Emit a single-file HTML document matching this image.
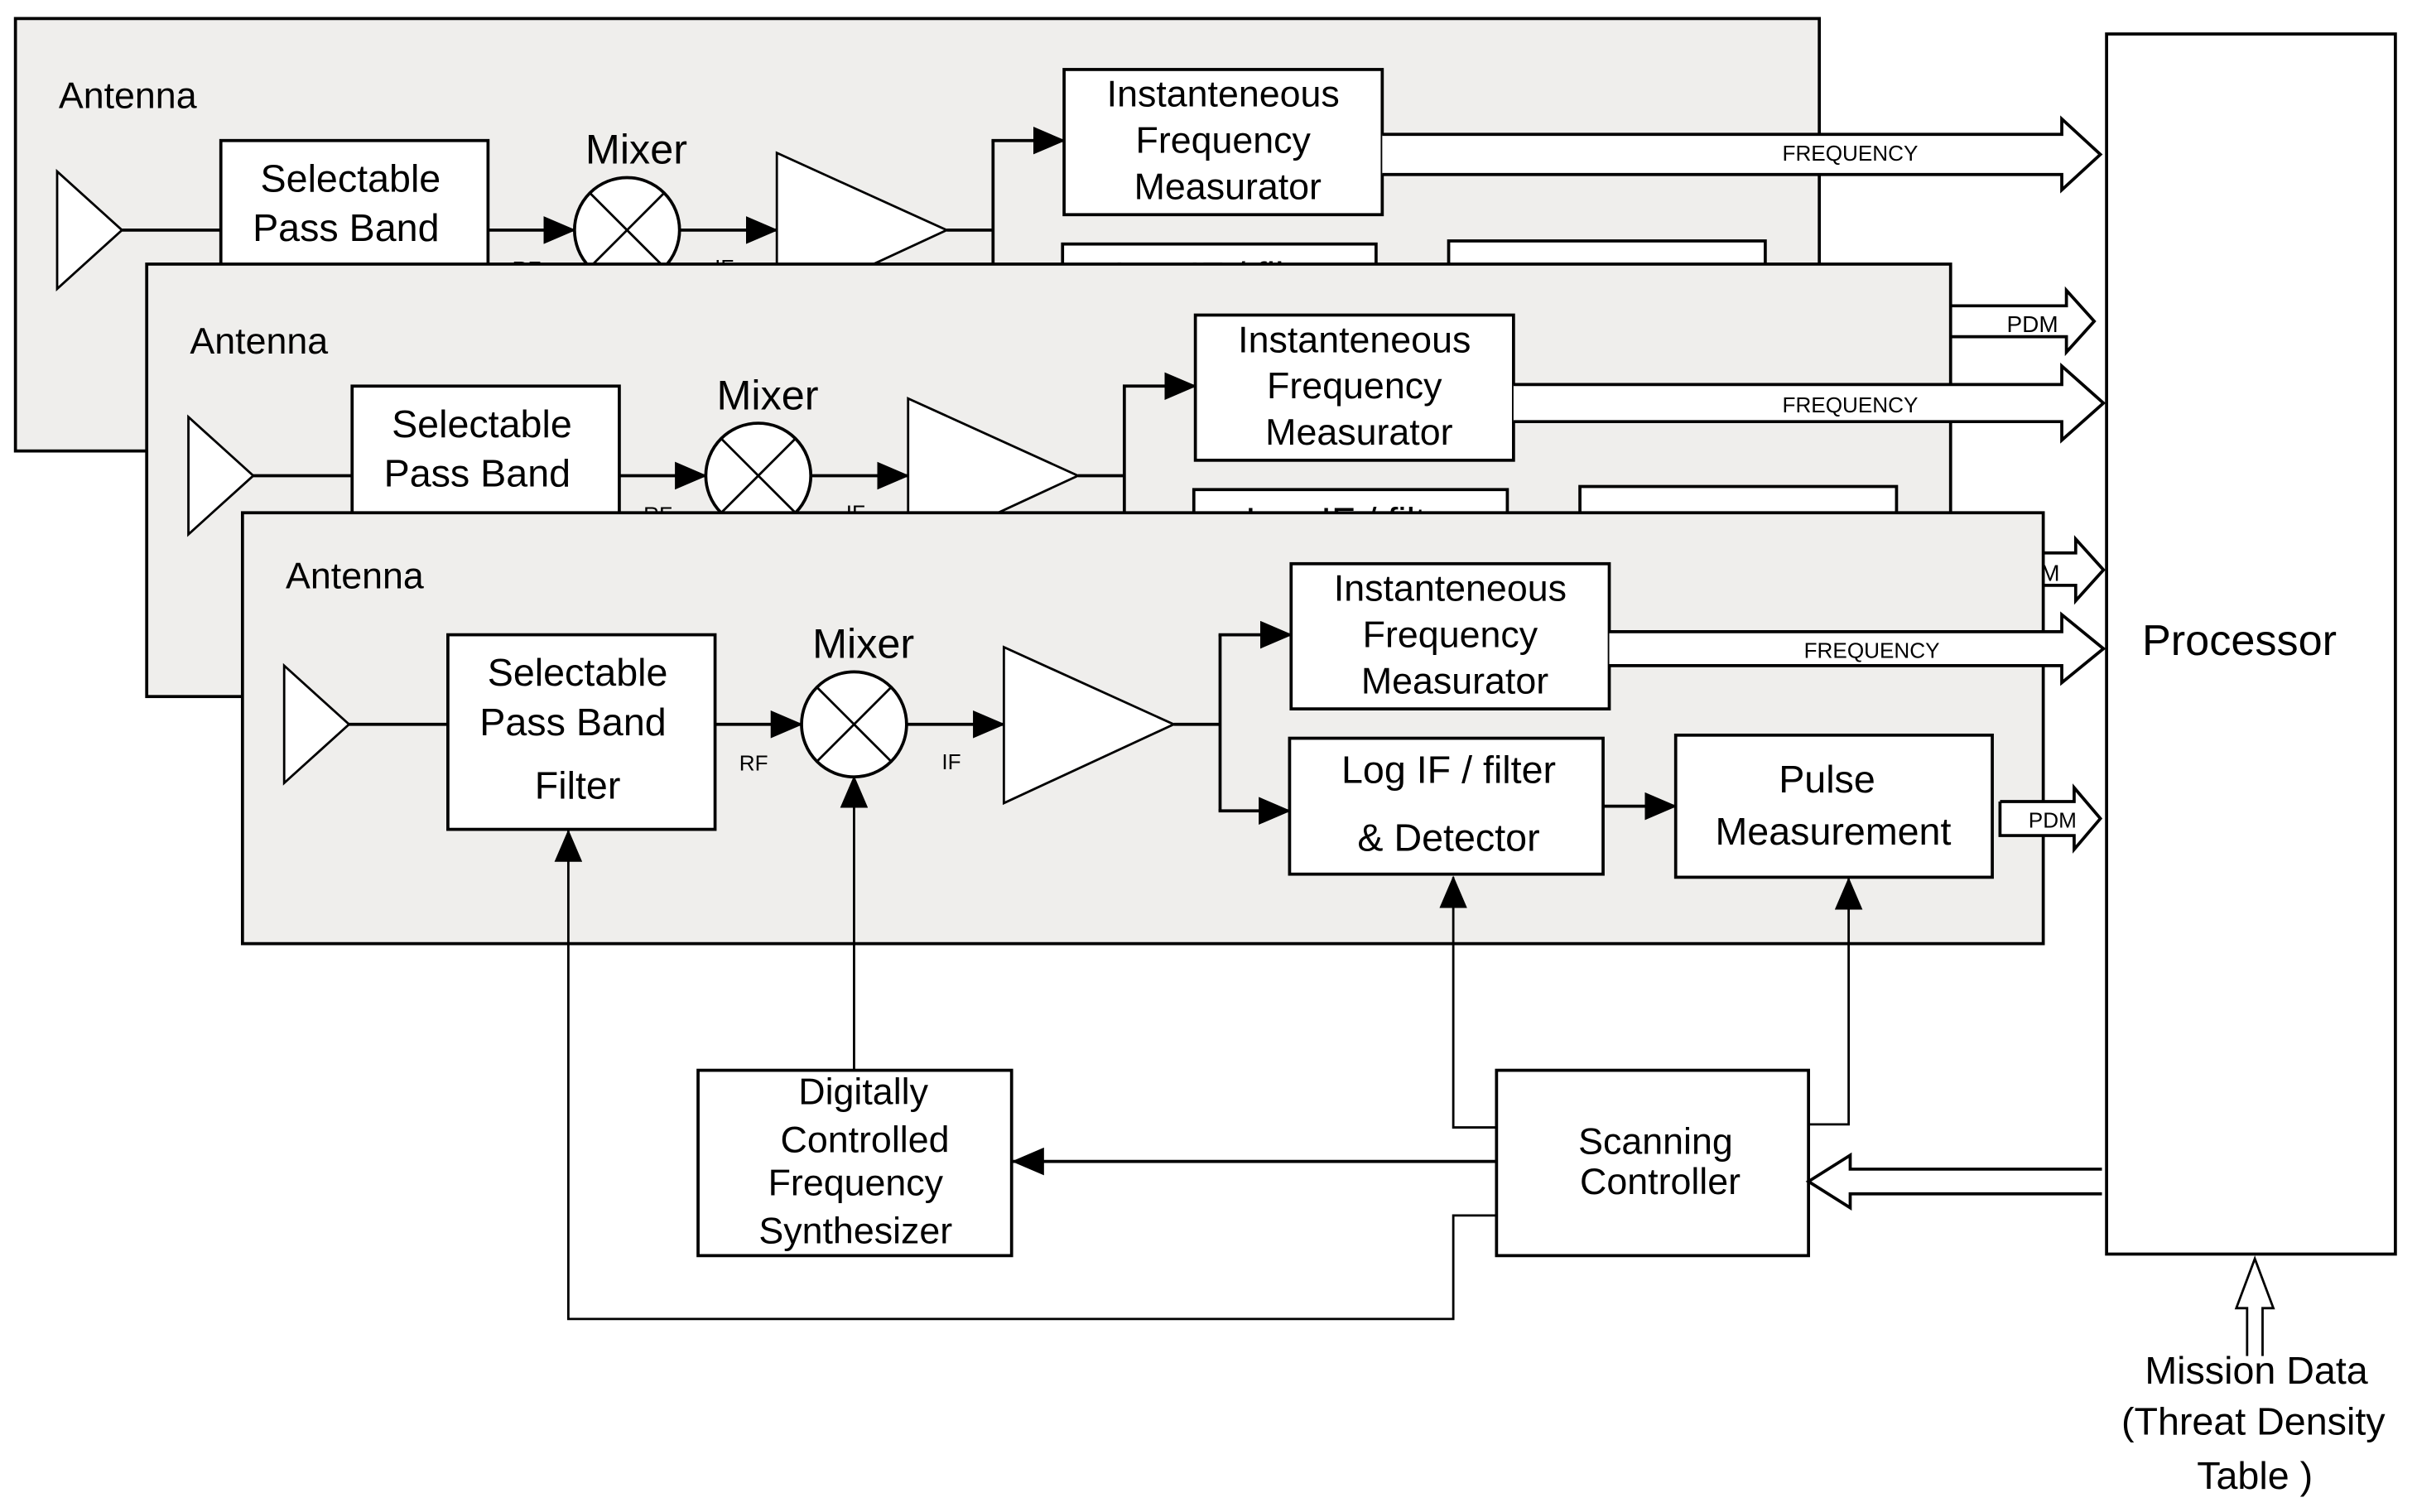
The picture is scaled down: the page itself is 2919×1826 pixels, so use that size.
<!DOCTYPE html>
<html><head><meta charset="utf-8"><style>
html,body{margin:0;padding:0;background:#fff;}
svg{display:block;}
text{font-family:"Liberation Sans",sans-serif;fill:#000;}
</style></head><body>
<svg width="2919" height="1826" viewBox="0 0 1565 979" preserveAspectRatio="none" xmlns="http://www.w3.org/2000/svg">
<defs>
<marker id="a" markerUnits="userSpaceOnUse" markerWidth="22" markerHeight="18" refX="20" refY="9" orient="auto"><path d="M0,0 L21,9 L0,18 z" fill="#000"/></marker>
</defs>

<!-- PANEL 1 -->
<g transform="translate(-147,-320)">
<rect x="157" y="332" width="1168" height="280" fill="#efeeec" stroke="#000" stroke-width="2"/>
<text x="185" y="390" font-size="24">Antenna</text>
<polygon points="184,431 226,469 184,507" fill="#fff" stroke="#000" stroke-width="1.5"/>
<line x1="226" y1="469" x2="290" y2="469" stroke="#000" stroke-width="2"/>
<rect x="290" y="411" width="173" height="126" fill="#fff" stroke="#000" stroke-width="2"/>
<text x="374" y="444" font-size="25" text-anchor="middle">Selectable</text>
<text x="371" y="476" font-size="25" text-anchor="middle">Pass Band</text>
<text x="374" y="517" font-size="25" text-anchor="middle">Filter</text>
<line x1="463" y1="469" x2="519" y2="469" stroke="#000" stroke-width="2" marker-end="url(#a)"/>
<text x="488" y="499" font-size="14" text-anchor="middle">RF</text>
<ellipse cx="553" cy="469" rx="34" ry="34" fill="#fff" stroke="#000" stroke-width="2"/>
<line x1="529" y1="445" x2="577" y2="493" stroke="#000" stroke-width="1.5"/>
<line x1="577" y1="445" x2="529" y2="493" stroke="#000" stroke-width="1.5"/>
<text x="559" y="426" font-size="27" text-anchor="middle">Mixer</text>
<line x1="587" y1="469" x2="650" y2="469" stroke="#000" stroke-width="2" marker-end="url(#a)"/>
<text x="616" y="498" font-size="14" text-anchor="middle">IF</text>
<polygon points="650,419 760,469 650,520" fill="#fff" stroke="#000" stroke-width="1.5"/>
<polyline points="760,469 790,469" fill="none" stroke="#000" stroke-width="2"/>
<polyline points="790,411 790,525" fill="none" stroke="#000" stroke-width="2"/>
<line x1="789" y1="411" x2="836" y2="411" stroke="#000" stroke-width="2" marker-end="url(#a)"/>
<line x1="789" y1="525" x2="835" y2="525" stroke="#000" stroke-width="2" marker-end="url(#a)"/>
<rect x="836" y="365" width="206" height="94" fill="#fff" stroke="#000" stroke-width="2"/>
<text x="939" y="389" font-size="24" text-anchor="middle">Instanteneous</text>
<text x="939" y="419" font-size="24" text-anchor="middle">Frequency</text>
<text x="942" y="449" font-size="24" text-anchor="middle">Measurator</text>
<rect x="835" y="478" width="203" height="88" fill="#fff" stroke="#000" stroke-width="2"/>
<text x="938" y="507" font-size="25" text-anchor="middle">Log IF  / filter</text>
<text x="938" y="551" font-size="25" text-anchor="middle">&amp; Detector</text>
<line x1="1038" y1="522" x2="1085" y2="522" stroke="#000" stroke-width="2" marker-end="url(#a)"/>
<rect x="1085" y="476" width="205" height="92" fill="#fff" stroke="#000" stroke-width="2"/>
<text x="1183" y="513" font-size="25" text-anchor="middle">Pulse</text>
<text x="1187" y="547" font-size="25" text-anchor="middle">Measurement</text>
</g>
<polyline points="895,87 1335,87 1335,77 1360,100 1335,123 1335,113 895,113" fill="#fff" stroke="#000" stroke-width="2"/>
<text x="1198" y="104" font-size="14" text-anchor="middle">FREQUENCY</text>
<polyline points="1143,198 1338,198 1338,188 1356,208 1338,228 1338,218 1143,218" fill="#fff" stroke="#000" stroke-width="2"/>
<text x="1316" y="215" font-size="15" text-anchor="middle">PDM</text>

<!-- PANEL 2 -->
<g transform="translate(-62,-161)">
<rect x="157" y="332" width="1168" height="280" fill="#efeeec" stroke="#000" stroke-width="2"/>
<text x="185" y="390" font-size="24">Antenna</text>
<polygon points="184,431 226,469 184,507" fill="#fff" stroke="#000" stroke-width="1.5"/>
<line x1="226" y1="469" x2="290" y2="469" stroke="#000" stroke-width="2"/>
<rect x="290" y="411" width="173" height="126" fill="#fff" stroke="#000" stroke-width="2"/>
<text x="374" y="444" font-size="25" text-anchor="middle">Selectable</text>
<text x="371" y="476" font-size="25" text-anchor="middle">Pass Band</text>
<text x="374" y="517" font-size="25" text-anchor="middle">Filter</text>
<line x1="463" y1="469" x2="519" y2="469" stroke="#000" stroke-width="2" marker-end="url(#a)"/>
<text x="488" y="499" font-size="14" text-anchor="middle">RF</text>
<ellipse cx="553" cy="469" rx="34" ry="34" fill="#fff" stroke="#000" stroke-width="2"/>
<line x1="529" y1="445" x2="577" y2="493" stroke="#000" stroke-width="1.5"/>
<line x1="577" y1="445" x2="529" y2="493" stroke="#000" stroke-width="1.5"/>
<text x="559" y="426" font-size="27" text-anchor="middle">Mixer</text>
<line x1="587" y1="469" x2="650" y2="469" stroke="#000" stroke-width="2" marker-end="url(#a)"/>
<text x="616" y="498" font-size="14" text-anchor="middle">IF</text>
<polygon points="650,419 760,469 650,520" fill="#fff" stroke="#000" stroke-width="1.5"/>
<polyline points="760,469 790,469" fill="none" stroke="#000" stroke-width="2"/>
<polyline points="790,411 790,525" fill="none" stroke="#000" stroke-width="2"/>
<line x1="789" y1="411" x2="836" y2="411" stroke="#000" stroke-width="2" marker-end="url(#a)"/>
<line x1="789" y1="525" x2="835" y2="525" stroke="#000" stroke-width="2" marker-end="url(#a)"/>
<rect x="836" y="365" width="206" height="94" fill="#fff" stroke="#000" stroke-width="2"/>
<text x="939" y="389" font-size="24" text-anchor="middle">Instanteneous</text>
<text x="939" y="419" font-size="24" text-anchor="middle">Frequency</text>
<text x="942" y="449" font-size="24" text-anchor="middle">Measurator</text>
<rect x="835" y="478" width="203" height="88" fill="#fff" stroke="#000" stroke-width="2"/>
<text x="938" y="507" font-size="25" text-anchor="middle">Log IF  / filter</text>
<text x="938" y="551" font-size="25" text-anchor="middle">&amp; Detector</text>
<line x1="1038" y1="522" x2="1085" y2="522" stroke="#000" stroke-width="2" marker-end="url(#a)"/>
<rect x="1085" y="476" width="205" height="92" fill="#fff" stroke="#000" stroke-width="2"/>
<text x="1183" y="513" font-size="25" text-anchor="middle">Pulse</text>
<text x="1187" y="547" font-size="25" text-anchor="middle">Measurement</text>
</g>
<polyline points="980,249 1335,249 1335,237 1362,261 1335,285 1335,273 980,273" fill="#fff" stroke="#000" stroke-width="2"/>
<text x="1198" y="267" font-size="14" text-anchor="middle">FREQUENCY</text>
<polyline points="1228,358 1344,358 1344,349 1362,369 1344,389 1344,379 1228,379" fill="#fff" stroke="#000" stroke-width="2"/>
<text x="1317" y="376" font-size="15" text-anchor="middle">PDM</text>

<!-- PANEL 3 -->
<g>
<rect x="157" y="332" width="1166" height="279" fill="#efeeec" stroke="#000" stroke-width="2"/>
<text x="185" y="381" font-size="24">Antenna</text>
<polygon points="184,431 226,469 184,507" fill="#fff" stroke="#000" stroke-width="1.5"/>
<line x1="226" y1="469" x2="290" y2="469" stroke="#000" stroke-width="2"/>
<rect x="290" y="411" width="173" height="126" fill="#fff" stroke="#000" stroke-width="2"/>
<text x="374" y="444" font-size="25" text-anchor="middle">Selectable</text>
<text x="371" y="476" font-size="25" text-anchor="middle">Pass Band</text>
<text x="374" y="517" font-size="25" text-anchor="middle">Filter</text>
<line x1="463" y1="469" x2="519" y2="469" stroke="#000" stroke-width="2" marker-end="url(#a)"/>
<text x="488" y="499" font-size="14" text-anchor="middle">RF</text>
<ellipse cx="553" cy="469" rx="34" ry="34" fill="#fff" stroke="#000" stroke-width="2"/>
<line x1="529" y1="445" x2="577" y2="493" stroke="#000" stroke-width="1.5"/>
<line x1="577" y1="445" x2="529" y2="493" stroke="#000" stroke-width="1.5"/>
<text x="559" y="426" font-size="27" text-anchor="middle">Mixer</text>
<line x1="587" y1="469" x2="650" y2="469" stroke="#000" stroke-width="2" marker-end="url(#a)"/>
<text x="616" y="498" font-size="14" text-anchor="middle">IF</text>
<polygon points="650,419 760,469 650,520" fill="#fff" stroke="#000" stroke-width="1.5"/>
<polyline points="760,469 790,469" fill="none" stroke="#000" stroke-width="2"/>
<polyline points="790,411 790,525" fill="none" stroke="#000" stroke-width="2"/>
<line x1="789" y1="411" x2="836" y2="411" stroke="#000" stroke-width="2" marker-end="url(#a)"/>
<line x1="789" y1="525" x2="835" y2="525" stroke="#000" stroke-width="2" marker-end="url(#a)"/>
<rect x="836" y="365" width="206" height="94" fill="#fff" stroke="#000" stroke-width="2"/>
<text x="939" y="389" font-size="24" text-anchor="middle">Instanteneous</text>
<text x="939" y="419" font-size="24" text-anchor="middle">Frequency</text>
<text x="942" y="449" font-size="24" text-anchor="middle">Measurator</text>
<rect x="835" y="478" width="203" height="88" fill="#fff" stroke="#000" stroke-width="2"/>
<text x="938" y="507" font-size="25" text-anchor="middle">Log IF  / filter</text>
<text x="938" y="551" font-size="25" text-anchor="middle">&amp; Detector</text>
<line x1="1038" y1="522" x2="1085" y2="522" stroke="#000" stroke-width="2" marker-end="url(#a)"/>
<rect x="1085" y="476" width="205" height="92" fill="#fff" stroke="#000" stroke-width="2"/>
<text x="1183" y="513" font-size="25" text-anchor="middle">Pulse</text>
<text x="1187" y="547" font-size="25" text-anchor="middle">Measurement</text>
</g>
<polyline points="1042,409 1335,409 1335,398 1362,420 1335,442 1335,431 1042,431" fill="#fff" stroke="#000" stroke-width="2"/>
<text x="1212" y="426" font-size="14" text-anchor="middle">FREQUENCY</text>
<polyline points="1295,519 1343,519 1343,510 1360,530 1343,550 1343,541 1295,541 1295,519" fill="#fff" stroke="#000" stroke-width="2"/>
<text x="1329" y="536" font-size="14" text-anchor="middle">PDM</text>

<!-- Processor -->
<rect x="1364" y="22" width="187" height="790" fill="#fff" stroke="#000" stroke-width="2"/>
<text x="1450" y="424" font-size="28" text-anchor="middle">Processor</text>

<!-- Bottom blocks -->
<rect x="452" y="693" width="203" height="120" fill="#fff" stroke="#000" stroke-width="2"/>
<text x="559" y="715" font-size="24" text-anchor="middle">Digitally</text>
<text x="560" y="746" font-size="24" text-anchor="middle">Controlled</text>
<text x="554" y="774" font-size="24" text-anchor="middle">Frequency</text>
<text x="554" y="805" font-size="24" text-anchor="middle">Synthesizer</text>
<rect x="969" y="693" width="202" height="120" fill="#fff" stroke="#000" stroke-width="2"/>
<text x="1072" y="747" font-size="24" text-anchor="middle">Scanning</text>
<text x="1075" y="773" font-size="24" text-anchor="middle">Controller</text>

<line x1="553" y1="693" x2="553" y2="503" stroke="#000" stroke-width="1.5" marker-end="url(#a)"/>
<line x1="969" y1="752" x2="656" y2="752" stroke="#000" stroke-width="2" marker-end="url(#a)"/>
<polyline points="969,730 941,730 941,568" fill="none" stroke="#000" stroke-width="1.5" marker-end="url(#a)"/>
<polyline points="1171,728 1197,728 1197,569" fill="none" stroke="#000" stroke-width="1.5" marker-end="url(#a)"/>
<polyline points="969,787 941,787 941,854 368,854 368,538" fill="none" stroke="#000" stroke-width="1.5" marker-end="url(#a)"/>

<polyline points="1361,757 1198,757 1198,748 1171,765 1198,782 1198,773 1361,773" fill="#fff" stroke="#000" stroke-width="2"/>
<polyline points="1455,878 1455,847 1448,847 1460,815 1472,847 1465,847 1465,878" fill="#fff" stroke="#000" stroke-width="1.5"/>
<text x="1461" y="896" font-size="25" text-anchor="middle">Mission Data</text>
<text x="1459" y="929" font-size="25" text-anchor="middle">(Threat Density</text>
<text x="1460" y="964" font-size="25" text-anchor="middle">Table )</text>
</svg>
</body></html>
